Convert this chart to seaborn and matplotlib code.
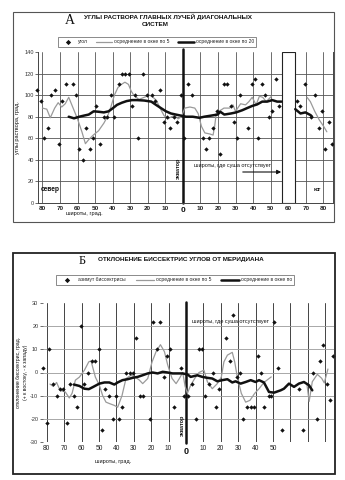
import matplotlib
matplotlib.use("Agg")
import matplotlib.pyplot as plt
import matplotlib.transforms as mtransforms
from matplotlib.patches import Rectangle
import seaborn as sns

sns.set_theme(style="white")
plt.rcParams['font.family'] = ['Liberation Sans', 'DejaVu Sans']
plt.rcParams['axes.unicode_minus'] = False

# ---------------- DATA (latitude: negative = north, positive = south) ----------------
# Panel A: opening angles of main rays of diagonal systems
top_lat = [-83, -81, -79, -76.6, -75, -73, -70.8, -68.9, -66.8, -62.5, -60.6, -58.9, -56.8, -54.9,
           -53, -51.1, -49.3, -47, -45.1, -43, -41, -39.3, -36.4, -34.5, -32.7, -30.8, -28.9, -27,
           -25.3, -22.8, -20.3, -17.7, -15.6, -13.1, -11, -9, -7.1, -5.2, -3.3, -1, 0.85, 3.1, 5.2,
           11.2, 13.2, 15, 17.3, 19.4, 21.1, 23.2, 25.1, 27.4, 29.3, 31, 32.8, 37.2, 39.1, 41, 42.9,
           45.2, 47, 49.3, 50.9, 53.1, 55, 65, 66.9, 69.4, 73.2, 75.1, 77.4, 79.3, 81.2, 83, 85]
top_angle = [105, 95, 60, 70, 100, 105, 55, 95, 110, 110, 100, 50, 40, 70,
             50, 60, 90, 55, 80, 80, 100, 80, 110, 120, 120, 120, 90, 100,
             60, 120, 100, 100, 95, 105, 75, 80, 70, 80, 75, 100, 60, 110, 100,
             60, 50, 60, 70, 85, 45, 110, 110, 90, 75, 60, 100, 70, 110, 115, 60,
             110, 100, 80, 85, 115, 90, 95, 90, 110, 80, 100, 70, 85, 50, 75, 55]

top_ma5_lat_a = [-80, -77.5, -75.5, -73, -71, -69, -67, -65, -63, -60, -57.5, -55.5, -53.5, -51, -48,
                 -45, -43, -41, -39, -37, -35, -33, -31, -29.5, -28, -25, -22, -19, -17, -15, -13,
                 -10.7, -8.5, -6.5, -4.6, -2.7, -0.8, 1.1, 4, 6.8, 8.7, 10.6, 12.5, 15.3, 17.2, 18.1,
                 19, 21.5, 23.4, 26.6, 28.5, 30, 32.9, 35.7, 37.6, 39.5, 41.7, 43.6, 45.5, 47.4, 49.3, 50.5]
top_ma5_val_a = [88, 87, 79, 88, 93, 89, 92, 98, 90, 78, 66, 55, 59, 63, 67,
                 74, 80, 89, 100, 107, 110, 112, 110, 104, 100, 96, 98, 100, 98, 95, 88,
                 81, 78, 80, 81, 78, 80, 88, 89, 88, 83, 71, 65, 64, 63, 71,
                 83, 86, 88, 88, 91, 85, 92, 91, 94, 98, 91, 99, 98, 94, 97, 99]
top_ma5_lat_b = [70.7, 72.6, 75.1, 77.7, 80.2, 82]
top_ma5_val_b = [98, 94, 85, 77, 71, 66]

top_ma20_lat_a = [-65, -62, -59, -56.4, -53.6, -50.8, -48, -45, -42.3, -39.8, -37.5, -34.7, -32, -29,
                  -26, -22, -18, -15.3, -12.5, -9.6, -6.8, -4, -1.1, 1.8, 5.6, 9.4, 12.2, 16, 19.8,
                  21.3, 23.6, 27.4, 30.3, 33.8, 36.6, 39.5, 42.3, 45.2, 48, 50.9, 53.7, 56.2]
top_ma20_val_a = [80, 78.5, 80, 81, 82, 85, 84.6, 84, 85, 88, 91, 93, 94.5, 95.4,
                  95.4, 95, 94, 91, 88, 85, 83, 82, 81, 80, 80, 79, 80, 81, 82,
                  84.6, 82, 83, 84, 86, 88, 90, 91.4, 94, 94, 95.4, 94, 94]
top_ma20_lat_b = [64, 67, 69.8, 72.7, 73.6]
top_ma20_val_b = [87, 83, 84, 81.5, 80]

# Panel B: deviation of bisectors from meridian
bot_lat = [-82.4, -80, -78.5, -76.2, -74.3, -72.4, -70.5, -68.6, -66.5, -64.5, -62.6, -60.5, -58.4,
           -56.5, -54, -52.1, -50.2, -48.3, -46.4, -44.4, -42.1, -40.2, -38.7, -36.8, -34.5, -32.2,
           -30.3, -28.7, -26.4, -24.5, -20.5, -18.8, -16.9, -14.8, -12.5, -10.9, -9, -6.7, -2.9, -1,
           1, 3.2, 5.6, 7.5, 9.4, 11.1, 13.2, 15.4, 17.1, 19, 23.2, 25.1, 27.2, 29.1, 31, 32.9, 35.2,
           37.2, 39.1, 41.3, 43.2, 45.1, 47.8, 49.1, 50.6, 53, 55, 65, 67.1, 73, 75.1, 76.8, 78.8,
           80.9, 83, 84.7]
bot_dev = [2, -22, 10, -5, -10, -7, -7, -22, -5, -10, -15, 20, -5,
           0, 5, 5, 10, -25, -7, -10, -20, -10, -20, -15, 0, 0,
           0, 15, -10, -10, -20, 22, 10, 22, -2, 7, 10, -15, 2, -10,
           -10, -5, -20, 10, 10, -10, -5, 0, -15, -7, 15, 5, 25, -2, 0, -20, -15,
           -15, -15, 7, 0, -15, -10, -10, 22, 2, -25, -7, -25, 0, -20, 5, 12,
           -5, -12, 7]

bot_ma5_lat_a = [-78.2, -76.3, -74.4, -72.4, -69.4, -67.1, -65.5, -63.6, -61.3, -58.4, -55.9, -54.6,
                 -52.1, -49.8, -47.9, -46, -43.7, -41.2, -39.3, -36.8, -34.5, -31.6, -29.1, -26.8,
                 -24.9, -22, -19.5, -17.2, -14.7, -12.4, -10.5, -8, -5.7, -3.8, -1.9, -0.5, 0.8, 2.7,
                 5, 7.5, 10.3, 12.3, 15.1, 18, 20.3, 21.8, 23.8, 26.6, 28, 29.5, 31.8, 34.3, 36.8,
                 39.5, 42, 44.8, 48.3, 49]
bot_ma5_val_a = [-5, -6, -4.3, -7.7, -8.4, -11, -9, -3.3, -2, 1, 4.6, 5,
                 -2, -5.5, -10, -12.8, -13.5, -14.2, -15, -10, -2.6, -1.2, -2, -3.3,
                 -4.8, -2.6, 4.6, 9, 12, 9, 3.2, -2.6, -4.8, -2.6, 0, -6, -9, -5.5,
                 -2.6, 0, 1, -4, -7, -4.8, -2, 4.6, 7.5, 8.7, 4.6, -2, -9, -12.8, -12,
                 -9, -7, -4.3, -2.3, -1.9]
bot_ma5_lat_b = [69.5, 70.8, 72.6, 75.5, 78, 79.5, 81.6]
bot_ma5_val_b = [-5, -12.5, -4, -0.8, -2.5, -4.5, 1.5]

bot_ma20_lat = [-64.5, -61.3, -58.4, -55.9, -53.3, -49.8, -46.9, -44.1, -41.2, -39.3, -36.5, -33.6,
                -30.7, -27.8, -25, -22, -19.2, -16.3, -13.4, -10.5, -7.7, -4.8, -1.9, 1, 2.7, 6.5,
                9.4, 12.3, 15.1, 18, 20.9, 23.8, 26.6, 28.5, 31.4, 34.3, 37.2, 40, 42, 44.8, 47.7,
                50.6, 54.4, 56.3, 59.2, 62.1, 64.9, 67.8, 70.7, 72.6]
bot_ma20_val = [-5.2, -5.8, -7, -7.2, -6.2, -4.8, -4.3, -4.3, -5.2, -4.3, -3.3, -2.9,
                -2.3, -1.9, -1.2, -0.4, 0, -0.4, 0.3, 0, -0.4, -0.4, -0.4, -0.9, -1.9, -1.2,
                -1.9, -2.3, -2.6, -3.8, -3.3, -2.9, -4.3, -3.8, -4.8, -4.1, -3.3, -4.1, -3.3, -4.3, -8.4,
                -8.7, -7.7, -7, -4.8, -6.2, -4.8, -4.1, -5.5, -7.7]

no_land_band = [56.4, 63.6]  # southern latitudes without land (panel A box)

top_xticks = list(range(-80, 81, 10))
top_xticklabels = [str(abs(v)) for v in top_xticks]
bot_xticks = list(range(-80, 51, 10))
bot_xticklabels = [str(abs(v)) for v in bot_xticks]

# ---------------- FIGURE ----------------
W, H = 345, 480
fig = plt.figure(figsize=(W / 100, H / 100), dpi=100)
fig.patch.set_facecolor('white')


def rect(l, t, r, b):
    return [l / W, 1 - b / H, (r - l) / W, (b - t) / H]


def fx(px):
    return px / W


def fy(py):
    return 1 - py / H


def ftext(x, y, s, **kw):
    kw.setdefault('ha', 'center')
    kw.setdefault('va', 'center')
    kw.setdefault('color', '#111')
    fig.text(fx(x), fy(y), s, **kw)


# outer frames
fig.add_artist(Rectangle((fx(13), fy(222)), (334 - 13) / W, (222 - 12) / H, fill=False,
                         lw=0.8, ec='#555', transform=fig.transFigure))
fig.add_artist(Rectangle((fx(13), fy(474)), (335 - 13) / W, (474 - 253) / H, fill=False,
                         lw=1.3, ec='#222', transform=fig.transFigure))

GRAY = '#9a9a9a'
BLACK = '#111111'

# ---------------- PANEL A ----------------
ax1 = fig.add_axes(rect(38, 52, 333, 203))
ax1.set_facecolor('none')
ax1.set_xlim(-82.5, 85.5)
ax1.set_ylim(0, 140)
ax1.set_xticks(top_xticks)
ax1.set_yticks(range(0, 141, 20))
ax1.set_yticklabels([str(v) for v in range(0, 141, 20)])
ax1.grid(True, color='#555', lw=0.6)
ax1.set_axisbelow(True)
ax1.spines['top'].set_visible(False)
for s in ['left', 'bottom', 'right']:
    ax1.spines[s].set_color('#444')
    ax1.spines[s].set_linewidth(0.7)
ax1.tick_params(axis='x', length=0, labelbottom=False)
ax1.tick_params(axis='y', left=True, length=2, width=0.5, labelsize=4, pad=1, colors='#333')
ax1.yaxis.get_gridlines()[-1].set_visible(False)

ax1.add_patch(Rectangle((no_land_band[0], 0), no_land_band[1] - no_land_band[0], 140,
                        fc='white', ec='#222', lw=0.8, zorder=2))
ax1.axvline(0, ymin=0, ymax=1.02, color=BLACK, lw=1.8, clip_on=False, zorder=2.5)

sns.lineplot(x=top_ma5_lat_a, y=top_ma5_val_a, ax=ax1, color=GRAY, lw=0.9, sort=False,
             label='осреднение в окне по 5', zorder=3)
sns.lineplot(x=top_ma5_lat_b, y=top_ma5_val_b, ax=ax1, color=GRAY, lw=0.9, sort=False, zorder=3)
sns.lineplot(x=top_ma20_lat_a, y=top_ma20_val_a, ax=ax1, color=BLACK, lw=1.8, sort=False,
             label='осреднение в окне по 20', zorder=3.5)
sns.lineplot(x=top_ma20_lat_b, y=top_ma20_val_b, ax=ax1, color=BLACK, lw=1.8, sort=False, zorder=3.5)
sns.scatterplot(x=top_lat, y=top_angle, ax=ax1, color=BLACK, marker='D', s=5, linewidth=0,
                label='угол', clip_on=False, zorder=4)
if ax1.get_legend() is not None:
    ax1.get_legend().remove()
ax1.set_xlabel('')
ax1.set_ylabel('')

h, l = ax1.get_legend_handles_labels()
order = [l.index('угол'), l.index('осреднение в окне по 5'), l.index('осреднение в окне по 20')]
fig.legend([h[i] for i in order], [l[i] for i in order], loc='center',
           bbox_to_anchor=(fx(157), fy(42)), ncol=3, fontsize=3.6, frameon=True,
           fancybox=False, edgecolor='#333', handlelength=3.2, columnspacing=1.6,
           handletextpad=0.4, borderpad=0.45, markerscale=1.2).get_frame().set_linewidth(0.5)

tr1 = mtransforms.blended_transform_factory(ax1.transData, fig.transFigure)
for v, lab in zip(top_xticks, top_xticklabels):
    if v == 0:
        ax1.text(v, fy(211), lab, transform=tr1, ha='center', va='center', fontsize=6,
                 fontweight='bold', color='#111')
    else:
        ax1.text(v, fy(208), lab, transform=tr1, ha='center', va='center', fontsize=4.6,
                 fontweight='bold', color='#222')

ftext(70, 20, 'А', fontsize=10, family=['Liberation Serif', 'DejaVu Serif'])
ftext(168, 17, 'УГЛЫ РАСТВОРА ГЛАВНЫХ ЛУЧЕЙ ДИАГОНАЛЬНЫХ', fontsize=4.6, fontweight='bold')
ftext(155, 25, 'СИСТЕМ', fontsize=4.6, fontweight='bold')
ftext(18, 128, 'углы раствора, град.', rotation=90, fontsize=4)
ftext(84, 214, 'широты, град.', fontsize=4.1)
ftext(178.3, 168, 'экватор', rotation=90, fontsize=4, fontweight='bold')
ftext(50, 190, 'север', fontsize=4.8, fontweight='bold')
ftext(317, 190, 'юг', fontsize=4.2, fontweight='bold')
ftext(233, 166, 'широты, где суша отсутствует', fontsize=4)
fig.add_artist(matplotlib.patches.FancyArrowPatch((fx(240), fy(172)), (fx(284), fy(172)),
                                                  transform=fig.transFigure, arrowstyle='-|>',
                                                  mutation_scale=6, color=BLACK, lw=0.8))

# ---------------- PANEL B ----------------
ax2 = fig.add_axes(rect(42.5, 303, 333.5, 442))
ax2.set_facecolor('none')
ax2.set_xlim(-82.5, 84.8)
ax2.set_ylim(-30, 30)
ax2.set_xticks(top_xticks)
ax2.set_yticks(range(-30, 31, 10))
ax2.set_yticklabels([str(v) for v in range(-30, 31, 10)])
ax2.grid(axis='x', color='#444', lw=0.7)
ax2.grid(axis='y', color='#9a9a9a', lw=0.6)
ax2.set_axisbelow(True)
for s in ax2.spines.values():
    s.set_visible(False)
ax2.tick_params(axis='x', length=0, labelbottom=False)
ax2.tick_params(axis='y', left=True, length=2, width=0.5, labelsize=4, pad=1, colors='#333')
ygl = ax2.yaxis.get_gridlines()
ygl[0].set_visible(False)
ygl[-1].set_visible(False)

ax2.axvline(0, ymin=-0.01, ymax=1.01, color=BLACK, lw=1.8, clip_on=False, zorder=2.5)

sns.lineplot(x=bot_ma5_lat_a, y=bot_ma5_val_a, ax=ax2, color=GRAY, lw=0.9, sort=False,
             label='осреднение в окне по 5', zorder=3)
sns.lineplot(x=bot_ma5_lat_b, y=bot_ma5_val_b, ax=ax2, color=GRAY, lw=0.9, sort=False, zorder=3)
sns.lineplot(x=bot_ma20_lat, y=bot_ma20_val, ax=ax2, color=BLACK, lw=1.8, sort=False,
             label='осреднение в окне по', zorder=3.5)
sns.scatterplot(x=bot_lat, y=bot_dev, ax=ax2, color=BLACK, marker='D', s=5, linewidth=0,
                label='азимут биссектрисы', clip_on=False, zorder=4)
if ax2.get_legend() is not None:
    ax2.get_legend().remove()
ax2.set_xlabel('')
ax2.set_ylabel('')

h, l = ax2.get_legend_handles_labels()
order = [l.index('азимут биссектрисы'), l.index('осреднение в окне по 5'),
         l.index('осреднение в окне по')]
fig.legend([h[i] for i in order], [l[i] for i in order], loc='center',
           bbox_to_anchor=(fx(175), fy(280)), ncol=3, fontsize=3.6, frameon=True,
           fancybox=False, edgecolor='#333', handlelength=3.6, columnspacing=2.0,
           handletextpad=0.4, borderpad=0.45, markerscale=1.2).get_frame().set_linewidth(0.5)

tr2 = mtransforms.blended_transform_factory(ax2.transData, fig.transFigure)
for v, lab in zip(bot_xticks, bot_xticklabels):
    if v == 0:
        ax2.text(v, fy(451), lab, transform=tr2, ha='center', va='center', fontsize=6.5,
                 fontweight='bold', color='#111')
    else:
        ax2.text(v, fy(448), lab, transform=tr2, ha='center', va='center', fontsize=4.8,
                 color='#222')

ftext(82, 261, 'Б', fontsize=9, family=['Liberation Serif', 'DejaVu Serif'])
ftext(181, 260, 'ОТКЛОНЕНИЕ БИССЕКТРИС УГЛОВ ОТ МЕРИДИАНА', fontsize=4.6, fontweight='bold')
ftext(19, 372, 'отклонение биссектрис, град.', rotation=90, fontsize=3.7)
ftext(25, 372, '(+ к востоку, - к западу)', rotation=90, fontsize=3.7)
ftext(113, 461, 'широты, град.', fontsize=4)
ftext(182.5, 425, 'экватор', rotation=90, fontsize=4, fontweight='bold')
ftext(231, 321, 'широты, где суша отсутствует', fontsize=4)

fig.savefig('out.png', dpi=100, facecolor='white')
